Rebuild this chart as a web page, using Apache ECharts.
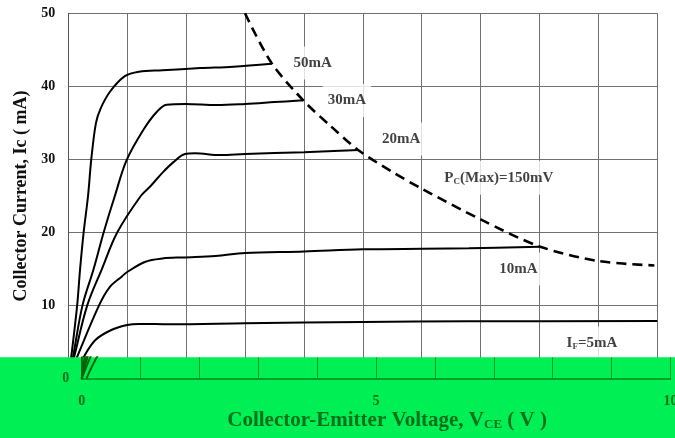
<!DOCTYPE html>
<html><head><meta charset="utf-8">
<script src="https://cdn.jsdelivr.net/npm/echarts@6/dist/echarts.min.js"></script>
<style>html,body{margin:0;padding:0;background:#fff}#c{width:675px;height:438px}</style>
</head><body><div id="c"></div>
<script>
// Collector current curves, [Vce (V), Ic (mA)]
const ic50 = [[0,0],[0.05,3],[0.15,10],[0.2,15],[0.26,20],[0.335,25],[0.39,30],[0.47,35],[0.55,37],[0.71,39.3],[0.96,41.4],[1.2,42],[1.6,42.2],[2.24,42.5],[2.8,42.7],[3.45,43.1]];
const ic30 = [[0,0],[0.08,3],[0.24,10],[0.43,15],[0.6,20],[0.79,25],[0.99,29.9],[1.27,34],[1.5,36.5],[1.67,37.5],[1.99,37.6],[2.52,37.45],[3.0,37.6],[3.5,37.85],[3.99,38.1]];
const ic20 = [[0,0],[0.1,3],[0.32,10],[0.57,15],[0.83,20],[1.23,25],[1.39,26.3],[1.6,28.2],[1.78,29.6],[1.98,30.75],[2.15,30.85],[2.58,30.6],[3.0,30.75],[4.0,31.0],[4.61,31.2],[4.92,31.3]];
const ic10 = [[0,0],[0.15,3],[0.52,10],[0.7,12.5],[0.91,14],[1.0,14.6],[1.31,16.0],[1.6,16.45],[1.94,16.6],[2.5,16.8],[3.0,17.2],[4.0,17.4],[5.0,17.7],[6.8,17.85],[8.0,18.05]];
const ic5  = [[0.08,0],[0.25,2.8],[0.46,5.3],[0.74,6.7],[1.0,7.36],[1.2,7.5],[1.73,7.44],[3.0,7.58],[5.0,7.76],[6.8,7.85],[10,7.9]];
// Max collector power dissipation boundary
const pcMax = [[3.0,50],[3.45,43.2],[4.0,38.0],[4.45,34.6],[4.92,31.3],[5.5,28.3],[6.0,26.0],[7.0,21.8],[8.0,18.1],[9.0,16.1],[9.95,15.5]];
// Curve annotations: text and anchor in data units
const annoText = ['{n|50mA}','{n|30mA}','{n|20mA}','{n|P}{s|C}{n|(Max)=150mV}','{n|10mA}','{n|I}{s|F}{n|=5mA}'];
const annoAt = [[4.15,43.2],[4.73,38.07],[5.65,32.8],[7.31,27.5],[7.64,15.0],[8.89,4.8]];
const yTicks = [0,10,20,30,40,50];
const xTicks = [0,5,10];

const FONT = 'Liberation Serif';
const GREEN = '#00ef55', DG = '#00851e', DGT = '#00701a';
const curves = [ic50, ic30, ic20, ic10, ic5];

const chart = echarts.init(document.getElementById('c'));
const series = [];
curves.forEach(d => series.push({type:'line', xAxisIndex:0, yAxisIndex:0, data:d, showSymbol:false, smooth:0.35, lineStyle:{color:'#000', width:2}, z:3, silent:true}));
series.push({type:'line', xAxisIndex:0, yAxisIndex:0, data:pcMax, showSymbol:false, smooth:0.3, lineStyle:{color:'#000', width:2.6, type:[10,6]}, z:3, silent:true});
series.push({type:'scatter', xAxisIndex:0, yAxisIndex:0, symbolSize:0, z:1, silent:true,
  data: annoAt.map((c,i)=>({value:c, label:{formatter:annoText[i]}})),
  label:{show:true, position:'inside', backgroundColor:'#fff', padding:[9,5],
    rich:{n:{fontFamily:FONT, fontWeight:'bold', fontSize:15, color:'#111'},
          s:{fontFamily:FONT, fontWeight:'bold', fontSize:9, color:'#111', padding:[7,0,0,0]}}}});
curves.forEach(d => series.push({type:'line', xAxisIndex:1, yAxisIndex:1, data:d, showSymbol:false, smooth:0.35, lineStyle:{color:'#00650f', width:2}, z:62, silent:true}));

chart.setOption({
  animation:false,
  backgroundColor:'#fff',
  graphic:[{type:'rect', left:0, top:357.3, shape:{width:675, height:82}, style:{fill:GREEN}, z:50, silent:true}],
  grid:[{left:68.3, right:17.7, top:13.3, bottom:59.3, outerBoundsMode:'none', containLabel:false},
        {left:81.7, right:4.5, top:357.3, bottom:59.5, outerBoundsMode:'none', containLabel:false}],
  xAxis:[{type:'value', gridIndex:0, min:0, max:10, interval:1,
          axisLine:{show:false}, axisTick:{show:false}, axisLabel:{show:false},
          splitLine:{show:true, lineStyle:{color:'#707070', width:1}}},
         {type:'value', gridIndex:1, min:0, max:10, interval:1, z:60,
          axisLine:{show:true, lineStyle:{color:DG, width:1.5}}, axisTick:{show:false},
          axisLabel:{margin:16, fontFamily:FONT, fontWeight:'bold', fontSize:14, color:DGT,
            formatter:v => xTicks.includes(v) ? String(v) : ''},
          splitLine:{show:true, lineStyle:{color:'#009a2a', width:1}},
          name:'{a|Collector-Emitter Voltage, V}{b|CE}{a| ( V )}', nameLocation:'middle', nameGap:31,
          nameTextStyle:{padding:[0,0,0,22],
            rich:{a:{fontFamily:FONT, fontWeight:'bold', fontSize:21, color:DGT},
                  b:{fontFamily:FONT, fontWeight:'bold', fontSize:13, color:DGT, padding:[9,0,0,0]}}}}],
  yAxis:[{type:'value', gridIndex:0, min:0, max:50, interval:10,
          axisLine:{show:true, lineStyle:{color:'#555', width:1}}, axisTick:{show:false},
          axisLabel:{margin:13, fontFamily:FONT, fontWeight:'bold', fontSize:14, color:'#111',
            formatter:v => yTicks.includes(v) ? String(v) : ''},
          splitLine:{show:true, lineStyle:{color:'#707070', width:1}},
          name:'Collector Current, Ic ( mA)', nameLocation:'middle', nameGap:35,
          nameTextStyle:{fontFamily:FONT, fontWeight:'bold', fontSize:18, color:'#111'}},
         {type:'value', gridIndex:1, min:0, max:2.9, interval:10, z:60,
          axisLine:{show:true, lineStyle:{color:'#006a14', width:2}}, axisTick:{show:false},
          axisLabel:{margin:12.5, fontFamily:FONT, fontWeight:'bold', fontSize:14, color:DGT,
            formatter:v => v === 0 ? '0' : ''},
          splitLine:{show:false}}],
  series: series
});
</script></body></html>
